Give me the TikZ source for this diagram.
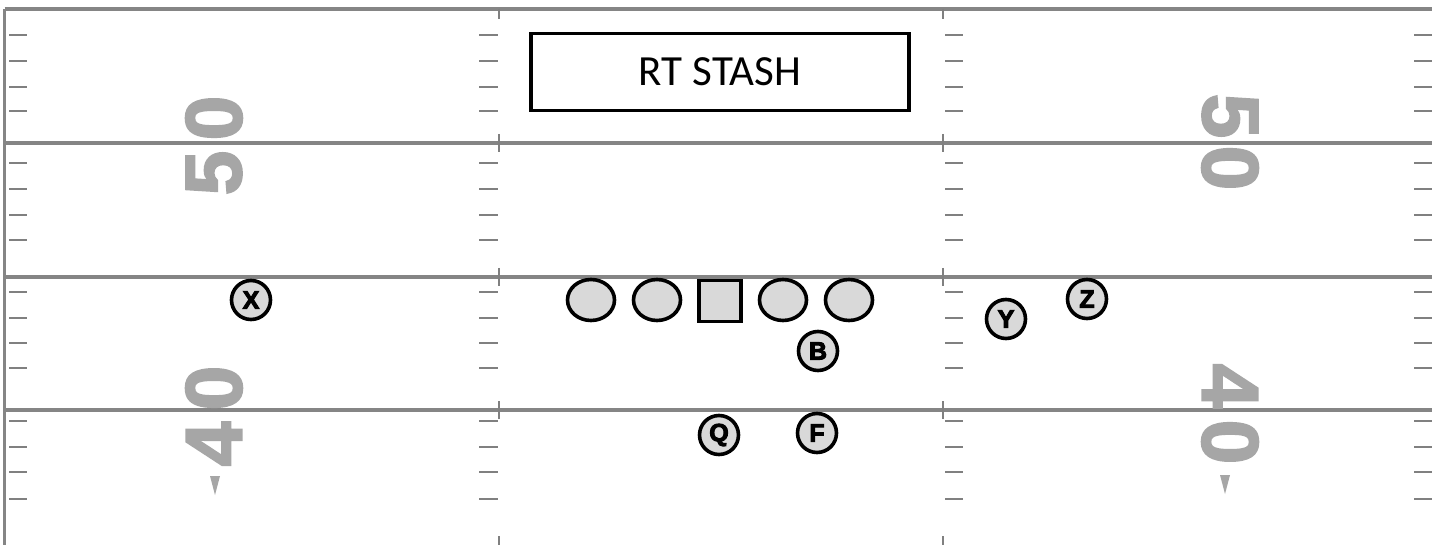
\documentclass[tikz,border=0pt]{standalone}
\usepackage{fontspec}
\usetikzlibrary{shapes.geometric}
\setmainfont{Carlito}
\newfontfamily\heavyfont[BoldFeatures={FakeBold=2.5}]{Liberation Sans}
\newfontfamily\blackfont[BoldFeatures={FakeBold=4}]{Liberation Sans}
\begin{document}
\begin{tikzpicture}[x=1pt,y=-1pt,
  yardline/.style={draw=black!48,line width=3.2pt},
  hashmark/.style={draw=black!50,line width=2.2pt},
  yardnum/.style={text=black!35,font=\heavyfont\bfseries\fontsize{80}{80}\selectfont,inner sep=0pt},
  lineman/.style={ellipse,draw=black,line width=3.6pt,fill=black!15,minimum width=47pt,minimum height=41pt,inner sep=0pt},
  centerman/.style={rectangle,draw=black,line width=3.6pt,fill=black!15,minimum width=42pt,minimum height=41pt,inner sep=0pt},
  player/.style={circle,draw=black,line width=3.6pt,fill=black!15,minimum size=39pt,inner sep=0pt,font=\blackfont\bfseries\fontsize{25}{25}\selectfont},
  titlebox/.style={rectangle,draw=black,line width=3.4pt,minimum width=378pt,minimum height=77pt,font=\fontsize{43}{43}\selectfont}
]
\useasboundingbox (0,0) rectangle (1432,545);
\fill[white] (0,0) rectangle (1432,545);
% yard lines and sideline
\foreach \yy in {9,143,277,410} \draw[yardline] (4.5,\yy) -- (1432,\yy);
\draw[yardline] (4.5,9) -- (4.5,545);
% hash marks
\foreach \yy in {35,61,87,111,163,189,215,240,292,318,343,368,421,447,472,499} {
  \draw[hashmark] (9,\yy) -- (27,\yy);
  \draw[hashmark] (479,\yy) -- (498,\yy);
  \draw[hashmark] (945,\yy) -- (963,\yy);
  \draw[hashmark] (1414,\yy) -- (1432,\yy);
}
% vertical ticks on yard lines
\foreach \xx in {499,943} {
  \draw[hashmark] (\xx,9) -- (\xx,19);
  \foreach \yy in {143,277,410} \draw[hashmark] (\xx,\yy-9) -- (\xx,\yy+9);
  \draw[hashmark] (\xx,536) -- (\xx,545);
}
% yard numbers
\node[yardnum,rotate=90] (l50a) at (214,118) {0};
\node[yardnum,rotate=90] (l50b) at (214,173) {5};
\node[yardnum,rotate=90] (l40a) at (214,388) {0};
\node[yardnum,rotate=90] (l40b) at (214,444) {4};
\fill[black!35] (210,476) -- (220,476) -- (215,495) -- cycle;
\node[yardnum,rotate=-90] (r50a) at (1230,116) {5};
\node[yardnum,rotate=-90] (r50b) at (1230,168) {0};
\node[yardnum,rotate=-90] (r40a) at (1230,386) {4};
\node[yardnum,rotate=-90] (r40b) at (1230,442) {0};
\fill[black!35] (1220,475) -- (1230,475) -- (1225,494) -- cycle;
% title
\node[titlebox] (title) at (720,72) {RT STASH};
% offensive line
\node[lineman] (lt) at (591,300) {};
\node[lineman] (lg) at (657,300) {};
\node[centerman] (c) at (720,301) {};
\node[lineman] (rg) at (783,300) {};
\node[lineman] (rt) at (849,300) {};
% skill players
\node[player] (x) at (251,300) {X};
\node[player] (b) at (818,351) {B};
\node[player] (q) at (719,435) {Q};
\node[player] (f) at (817,433) {F};
\node[player] (y) at (1006,319) {Y};
\node[player] (z) at (1087,299) {Z};
\end{tikzpicture}
\end{document}
